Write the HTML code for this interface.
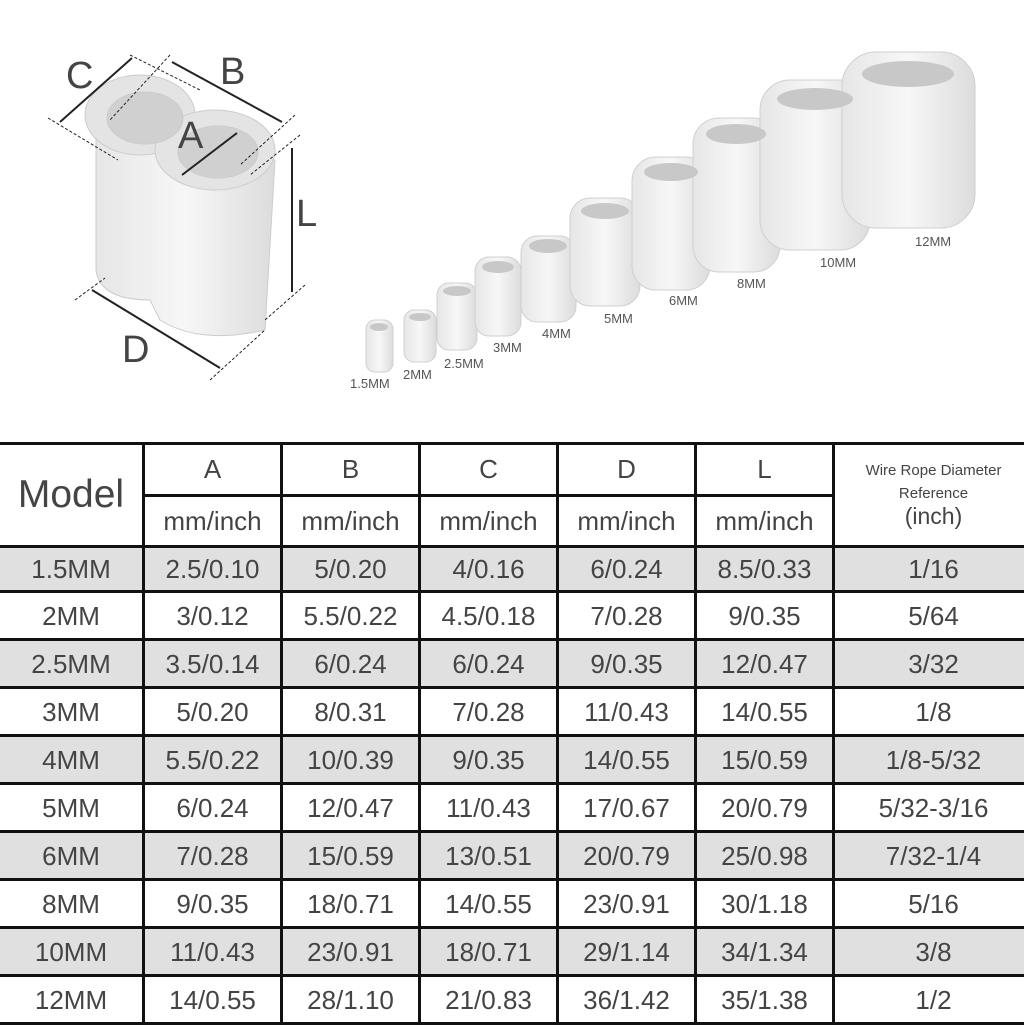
<!DOCTYPE html>
<html><head><meta charset="utf-8"><style>
html,body{margin:0;padding:0;background:#fff;}
body{width:1024px;height:1024px;position:relative;overflow:hidden;font-family:"Liberation Sans",Arial,sans-serif;color:#444;}
svg{position:absolute;left:0;top:0;}
table{position:absolute;left:-3px;top:442px;width:1035px;border-collapse:collapse;table-layout:fixed;}
td{border:3px solid #111;text-align:center;padding:0;font-size:26px;line-height:28px;color:#444;height:45px;}
tr.g td{background:#e0e0e0;}
tr.f td{height:42px;}
</style></head><body>
<svg width="1024" height="440" viewBox="0 0 1024 440">
<defs>
<linearGradient id="m" x1="0" x2="1"><stop offset="0" stop-color="#e6e6e6"/><stop offset=".5" stop-color="#f7f7f7"/><stop offset="1" stop-color="#dcdcdc"/></linearGradient>
</defs>
<g fill="url(#m)" stroke="#ccc" stroke-width="1">
<path d="M96 120 L96 270 Q100 300 150 300 L160 320 Q200 345 265 330 L275 160 L120 120 Z"/>
<ellipse cx="140" cy="115" rx="55" ry="40" fill="#e4e4e4"/>
<ellipse cx="215" cy="150" rx="60" ry="40" fill="#e4e4e4"/>
<ellipse cx="145" cy="118" rx="38" ry="26" fill="#d0d0d0"/>
<ellipse cx="218" cy="152" rx="40" ry="26" fill="#d0d0d0"/>
</g>
<g stroke="#222" stroke-width="2" fill="none">
<line x1="60" y1="122" x2="132" y2="58"/><line x1="172" y1="62" x2="282" y2="122"/>
<line x1="182" y1="175" x2="237" y2="133"/><line x1="292" y1="148" x2="292" y2="292"/>
<line x1="92" y1="290" x2="220" y2="368"/>
</g>
<g stroke="#222" stroke-width="1" stroke-dasharray="3 2">
<line x1="48" y1="118" x2="118" y2="160"/><line x1="130" y1="55" x2="200" y2="90"/>
<line x1="170" y1="55" x2="110" y2="120"/><line x1="295" y1="115" x2="240" y2="165"/>
<line x1="300" y1="135" x2="250" y2="175"/><line x1="305" y1="285" x2="265" y2="320"/>
<line x1="75" y1="300" x2="105" y2="278"/><line x1="210" y1="380" x2="265" y2="330"/>
</g>
<g font-size="38" fill="#444" font-family="Liberation Sans, Arial, sans-serif">
<text x="66" y="88">C</text><text x="220" y="84">B</text><text x="178" y="148">A</text>
<text x="296" y="226">L</text><text x="122" y="362">D</text>
</g>
<g fill="url(#m)" stroke="#d0d0d0">
<rect x="366" y="320" width="27" height="52" rx="9"/>
<rect x="404" y="310" width="32" height="52" rx="10"/>
<rect x="437" y="283" width="40" height="67" rx="12"/>
<rect x="475" y="257" width="46" height="79" rx="14"/>
<rect x="521" y="236" width="55" height="86" rx="16"/>
<rect x="570" y="198" width="70" height="108" rx="20"/>
<rect x="632" y="157" width="78" height="133" rx="24"/>
<rect x="693" y="118" width="87" height="154" rx="26"/>
<rect x="760" y="80" width="110" height="170" rx="30"/>
<rect x="842" y="52" width="133" height="176" rx="34"/>
</g>
<g fill="#c8c8c8">
<ellipse cx="379" cy="327" rx="9" ry="4"/><ellipse cx="420" cy="317" rx="11" ry="4"/>
<ellipse cx="457" cy="291" rx="14" ry="5"/><ellipse cx="498" cy="267" rx="16" ry="6"/>
<ellipse cx="548" cy="246" rx="19" ry="7"/><ellipse cx="605" cy="211" rx="24" ry="8"/>
<ellipse cx="671" cy="172" rx="27" ry="9"/><ellipse cx="736" cy="134" rx="30" ry="10"/>
<ellipse cx="815" cy="99" rx="38" ry="11"/><ellipse cx="908" cy="74" rx="46" ry="13"/>
</g>
<g font-size="13" fill="#555" font-family="Liberation Sans, Arial, sans-serif">
<text x="350" y="388">1.5MM</text><text x="403" y="379">2MM</text><text x="444" y="368">2.5MM</text>
<text x="493" y="352">3MM</text><text x="542" y="338">4MM</text><text x="604" y="323">5MM</text>
<text x="669" y="305">6MM</text><text x="737" y="288">8MM</text><text x="820" y="267">10MM</text>
<text x="915" y="246">12MM</text>
</g>
</svg>
<table>
<colgroup><col style="width:145px"><col style="width:138px"><col style="width:138px"><col style="width:138px"><col style="width:138px"><col style="width:138px"><col style="width:200px"></colgroup>
<tr><td rowspan="2" style="font-size:39px;line-height:44px;height:100px">Model</td><td style="height:48px">A</td><td>B</td><td>C</td><td>D</td><td>L</td><td rowspan="2" style="font-size:15px;line-height:23px">Wire Rope Diameter<br>Reference<br><span style="font-size:23px">(inch)</span></td></tr>
<tr><td style="height:48px">mm/inch</td><td>mm/inch</td><td>mm/inch</td><td>mm/inch</td><td>mm/inch</td></tr>
<tr class="g f"><td>1.5MM</td><td>2.5/0.10</td><td>5/0.20</td><td>4/0.16</td><td>6/0.24</td><td>8.5/0.33</td><td>1/16</td></tr>
<tr><td>2MM</td><td>3/0.12</td><td>5.5/0.22</td><td>4.5/0.18</td><td>7/0.28</td><td>9/0.35</td><td>5/64</td></tr>
<tr class="g"><td>2.5MM</td><td>3.5/0.14</td><td>6/0.24</td><td>6/0.24</td><td>9/0.35</td><td>12/0.47</td><td>3/32</td></tr>
<tr><td>3MM</td><td>5/0.20</td><td>8/0.31</td><td>7/0.28</td><td>11/0.43</td><td>14/0.55</td><td>1/8</td></tr>
<tr class="g"><td>4MM</td><td>5.5/0.22</td><td>10/0.39</td><td>9/0.35</td><td>14/0.55</td><td>15/0.59</td><td>1/8-5/32</td></tr>
<tr><td>5MM</td><td>6/0.24</td><td>12/0.47</td><td>11/0.43</td><td>17/0.67</td><td>20/0.79</td><td>5/32-3/16</td></tr>
<tr class="g"><td>6MM</td><td>7/0.28</td><td>15/0.59</td><td>13/0.51</td><td>20/0.79</td><td>25/0.98</td><td>7/32-1/4</td></tr>
<tr><td>8MM</td><td>9/0.35</td><td>18/0.71</td><td>14/0.55</td><td>23/0.91</td><td>30/1.18</td><td>5/16</td></tr>
<tr class="g"><td>10MM</td><td>11/0.43</td><td>23/0.91</td><td>18/0.71</td><td>29/1.14</td><td>34/1.34</td><td>3/8</td></tr>
<tr><td>12MM</td><td>14/0.55</td><td>28/1.10</td><td>21/0.83</td><td>36/1.42</td><td>35/1.38</td><td>1/2</td></tr>
</table>
</body></html>
